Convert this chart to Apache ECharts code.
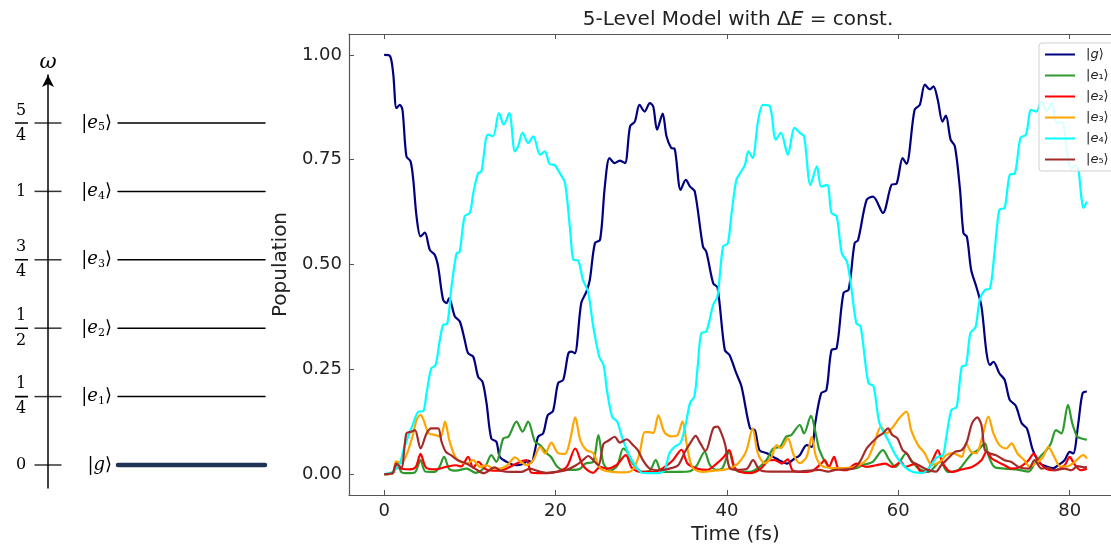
<!DOCTYPE html>
<html><head><meta charset="utf-8">
<script src="https://cdn.jsdelivr.net/npm/echarts@6/dist/echarts.min.js"></script>
<style>html,body{margin:0;padding:0;background:#fff}#c{width:1111px;height:544px}</style>
</head><body><div id="c"></div>
<script>
// ---------- data ----------
const levelValues = [0, 0.25, 0.5, 0.75, 1, 1.25];
const levelKets = ['|{i|g}⟩', '|{i|e}{s|1}⟩', '|{i|e}{s|2}⟩', '|{i|e}{s|3}⟩', '|{i|e}{s|4}⟩', '|{i|e}{s|5}⟩'];
const levelTickLabels = [['0'], ['1', '4'], ['1', '2'], ['3', '4'], ['1'], ['5', '4']];
const xTicks = [0, 20, 40, 60, 80];
const yTicks = [0, 0.25, 0.5, 0.75, 1.0];
const seriesNames = ['|g⟩', '|e₁⟩', '|e₂⟩', '|e₃⟩', '|e₄⟩', '|e₅⟩'];
const seriesColors = ['#000080', '#2e9a2e', '#ff0000', '#ffa500', '#00ffff', '#a52a2a'];

const gPop = [[0,1.0],[0.66,0.998],[1.05,0.957],[1.44,0.873],[1.83,0.881],[2.14,0.869],[2.6,0.758],[3.08,0.746],[3.4,0.702],[3.78,0.615],[4.25,0.567],[4.75,0.576],[5.33,0.535],[5.9,0.523],[6.3,0.495],[6.88,0.416],[7.28,0.408],[7.58,0.42],[8.25,0.376],[8.83,0.364],[9.4,0.32],[9.8,0.288],[10.4,0.28],[10.97,0.232],[11.48,0.22],[11.95,0.169],[12.5,0.085],[13.1,0.077],[13.5,0.041],[14.3,0.029],[15.4,0.021],[16.2,0.024],[16.8,0.032],[17.2,0.028],[17.6,0.057],[17.97,0.089],[18.55,0.097],[19.1,0.141],[19.7,0.15],[20.3,0.217],[20.9,0.225],[21.5,0.288],[21.9,0.292],[22.25,0.288],[23.0,0.408],[23.6,0.435],[24.0,0.463],[24.6,0.551],[25.2,0.559],[25.75,0.686],[26.3,0.754],[26.9,0.742],[27.5,0.748],[28.1,0.742],[28.7,0.83],[29.25,0.841],[29.8,0.881],[30.4,0.865],[31.0,0.885],[31.4,0.877],[31.85,0.822],[32.5,0.86],[32.95,0.806],[33.5,0.778],[33.9,0.776],[34.6,0.678],[35.2,0.702],[35.7,0.686],[36.25,0.674],[37.2,0.543],[37.6,0.53],[38.4,0.455],[38.9,0.445],[39.75,0.296],[40.3,0.284],[41.1,0.24],[41.7,0.209],[42.7,0.109],[43.25,0.105],[43.8,0.057],[44.6,0.05],[45.4,0.041],[46.1,0.033],[47.0,0.025],[47.9,0.037],[48.5,0.045],[49.3,0.069],[49.9,0.065],[50.3,0.121],[51.0,0.193],[51.6,0.2],[52.2,0.296],[52.8,0.3],[53.6,0.432],[54.2,0.44],[54.9,0.551],[55.3,0.558],[56.3,0.654],[57.05,0.662],[58.2,0.623],[59.2,0.69],[59.8,0.693],[60.5,0.754],[60.95,0.74],[61.9,0.869],[62.5,0.881],[63.1,0.929],[63.7,0.918],[64.1,0.925],[64.6,0.893],[65.15,0.841],[65.55,0.855],[66.1,0.798],[66.6,0.782],[67.2,0.678],[67.6,0.575],[68.0,0.566],[68.5,0.487],[69.1,0.447],[69.7,0.4],[70.3,0.288],[70.7,0.26],[71.1,0.268],[71.8,0.24],[72.4,0.225],[73.0,0.177],[73.7,0.163],[74.4,0.121],[75.0,0.109],[75.7,0.057],[76.5,0.026],[77.3,0.018],[78.1,0.014],[78.7,0.022],[79.4,0.033],[80.0,0.053],[80.4,0.049],[81.0,0.121],[81.5,0.193],[82,0.197]];

const e1Pop = [[0,0],[1.0,0.002],[1.6,0.027],[2.0,0.005],[2.8,0.002],[3.6,0.004],[4.25,0.033],[4.8,0.006],[5.8,0.005],[6.4,0.015],[7.0,0.041],[7.6,0.012],[8.4,0.008],[9.6,0.013],[10.7,0.003],[11.8,0.018],[12.5,0.045],[13.1,0.029],[13.9,0.085],[14.5,0.089],[15.45,0.125],[16.15,0.101],[16.8,0.125],[17.6,0.077],[18.2,0.069],[19.0,0.049],[19.5,0.04],[20.1,0.02],[20.9,0.01],[22.0,0.01],[22.8,0.012],[23.5,0.025],[24.4,0.03],[25.0,0.093],[25.6,0.025],[26.4,0.008],[27.2,0.02],[27.9,0.061],[28.3,0.055],[29.0,0.025],[30.2,0.005],[31.0,0.008],[31.7,0.033],[32.4,0.005],[34.0,0.005],[35.5,0.006],[36.4,0.018],[37.4,0.053],[38.0,0.022],[38.8,0.01],[39.5,0.015],[40.25,0.053],[40.9,0.012],[41.7,0.005],[42.7,0.005],[43.8,0.017],[44.6,0.033],[45.4,0.061],[46.2,0.065],[46.9,0.089],[47.5,0.093],[48.5,0.117],[49.0,0.097],[49.8,0.139],[50.4,0.093],[50.8,0.057],[51.6,0.025],[52.3,0.013],[53.5,0.012],[55.1,0.014],[55.8,0.021],[57.0,0.029],[58.2,0.057],[58.9,0.035],[59.7,0.017],[60.9,0.049],[61.6,0.03],[62.4,0.013],[63.5,0.005],[64.9,0.029],[65.8,0.005],[67.0,0.01],[67.8,0.029],[68.6,0.049],[69.3,0.057],[70.1,0.073],[70.5,0.045],[71.2,0.017],[72.4,0.013],[74.0,0.01],[75.2,0.006],[75.9,0.025],[76.7,0.045],[77.2,0.055],[77.8,0.073],[78.4,0.105],[79.0,0.097],[79.8,0.165],[80.3,0.121],[80.9,0.089],[81.7,0.083],[82,0.082]];

const e2Pop = [[0,0],[1.0,0.002],[1.4,0.017],[2.2,0.012],[3.0,0.011],[3.7,0.017],[4.25,0.048],[4.9,0.015],[6.0,0.011],[7.2,0.017],[8.4,0.021],[9.0,0.018],[9.8,0.041],[10.4,0.015],[11.0,0.029],[11.8,0.012],[12.7,0.008],[13.5,0.008],[14.3,0.013],[15.45,0.025],[16.6,0.033],[17.2,0.003],[18.5,0.002],[20.1,0.005],[21.3,0.017],[22.3,0.061],[23.2,0.02],[24.4,0.003],[25.2,0.017],[26.0,0.013],[27.1,0.021],[28.2,0.045],[28.9,0.015],[30.0,0.005],[31.5,0.005],[32.6,0.015],[33.7,0.033],[34.7,0.058],[35.4,0.025],[36.5,0.013],[37.7,0.01],[38.8,0.025],[39.6,0.04],[40.25,0.057],[40.9,0.015],[41.6,0.005],[42.7,0.002],[43.9,0.012],[45.0,0.033],[45.6,0.033],[46.4,0.025],[47.1,0.035],[47.7,0.008],[48.9,0.005],[50.0,0.008],[51.0,0.025],[51.4,0.033],[51.9,0.017],[52.5,0.041],[53.0,0.013],[53.9,0.009],[55.1,0.025],[56.3,0.017],[57.4,0.021],[58.5,0.025],[59.3,0.017],[60.3,0.029],[60.8,0.017],[62.0,0.025],[62.5,0.008],[63.2,0.005],[64.0,0.033],[64.6,0.057],[65.2,0.025],[66.2,0.005],[67.4,0.011],[68.6,0.017],[69.7,0.033],[70.3,0.053],[70.9,0.037],[71.6,0.029],[72.4,0.021],[73.2,0.013],[74.2,0.017],[75.2,0.033],[75.8,0.049],[76.3,0.033],[77.2,0.013],[78.2,0.009],[79.4,0.021],[80.0,0.041],[80.5,0.025],[81.3,0.009],[82,0.013]];

const e3Pop = [[0,0],[1.0,0.003],[1.4,0.03],[2.0,0.027],[2.6,0.045],[3.3,0.089],[3.8,0.13],[4.25,0.141],[4.6,0.129],[5.2,0.097],[6.0,0.093],[6.6,0.089],[7.1,0.125],[7.6,0.081],[8.2,0.045],[8.8,0.03],[9.6,0.025],[10.4,0.033],[11.2,0.017],[12.0,0.021],[12.7,0.013],[13.5,0.013],[14.4,0.021],[15.25,0.04],[15.9,0.03],[16.6,0.021],[17.4,0.033],[18.2,0.065],[18.8,0.049],[19.5,0.075],[20.3,0.05],[21.1,0.048],[21.7,0.081],[22.3,0.135],[22.9,0.08],[23.6,0.057],[24.4,0.05],[25.3,0.012],[26.7,0.005],[28.0,0.004],[29.0,0.01],[29.8,0.049],[30.4,0.1],[30.9,0.1],[31.4,0.098],[32.0,0.14],[32.7,0.1],[33.5,0.09],[34.2,0.092],[34.8,0.125],[35.4,0.06],[36.0,0.015],[37.2,0.005],[38.5,0.008],[39.6,0.01],[40.3,0.014],[41.0,0.02],[41.7,0.035],[42.3,0.057],[43.0,0.109],[43.6,0.05],[44.4,0.026],[45.2,0.041],[45.8,0.069],[46.3,0.062],[47.1,0.085],[47.8,0.045],[48.5,0.026],[49.3,0.041],[49.9,0.089],[50.4,0.041],[51.2,0.018],[53.1,0.014],[54.7,0.016],[56.3,0.034],[57.05,0.065],[58.0,0.113],[58.6,0.097],[59.4,0.113],[60.1,0.133],[60.95,0.149],[61.5,0.105],[62.3,0.069],[63.1,0.049],[63.9,0.022],[64.9,0.03],[65.6,0.045],[66.3,0.05],[67.4,0.041],[67.9,0.073],[68.5,0.053],[69.1,0.05],[69.8,0.089],[70.5,0.137],[71.1,0.097],[71.8,0.069],[72.6,0.061],[73.2,0.073],[73.9,0.049],[74.7,0.033],[75.3,0.018],[76.1,0.026],[76.9,0.041],[77.5,0.065],[78.2,0.041],[78.9,0.018],[79.7,0.018],[80.4,0.026],[81.2,0.041],[81.6,0.045],[82,0.037]];

const e4Pop = [[0,0],[1,0.005],[1.8,0.024],[2.3,0.06],[2.8,0.089],[3.4,0.121],[4.0,0.149],[4.55,0.15],[4.95,0.193],[5.5,0.252],[6.0,0.26],[6.5,0.32],[6.9,0.356],[7.35,0.358],[7.86,0.447],[8.45,0.527],[8.8,0.53],[9.4,0.615],[10.0,0.623],[10.4,0.67],[10.97,0.718],[11.35,0.722],[12.1,0.81],[12.7,0.806],[13.4,0.861],[13.95,0.834],[14.6,0.861],[15.25,0.77],[15.6,0.78],[16.15,0.814],[16.8,0.79],[17.4,0.806],[18.2,0.762],[18.75,0.77],[19.3,0.74],[19.9,0.737],[20.5,0.718],[21.1,0.695],[21.7,0.583],[22.1,0.511],[22.6,0.51],[23.2,0.463],[23.8,0.435],[24.4,0.352],[25.1,0.28],[25.6,0.26],[26.0,0.2],[26.6,0.137],[27.2,0.125],[27.8,0.085],[28.6,0.045],[29.3,0.02],[30.1,0.003],[31,0.002],[32.2,0.003],[32.75,0.01],[33.3,0.05],[33.9,0.065],[34.6,0.075],[35.2,0.12],[35.7,0.17],[36.2,0.185],[36.6,0.26],[37.0,0.336],[37.6,0.34],[38.4,0.404],[38.9,0.424],[39.55,0.543],[40.1,0.55],[40.5,0.615],[41.1,0.702],[41.6,0.72],[42.1,0.738],[42.5,0.77],[43.0,0.754],[43.6,0.838],[44.2,0.881],[45.0,0.878],[45.7,0.798],[46.3,0.814],[47.1,0.762],[47.9,0.826],[48.5,0.814],[49.0,0.806],[49.75,0.69],[50.5,0.734],[51.0,0.686],[51.7,0.69],[52.2,0.623],[52.8,0.615],[53.4,0.527],[54.0,0.507],[54.5,0.447],[55.1,0.36],[55.6,0.352],[56.5,0.217],[57.1,0.21],[57.8,0.121],[58.8,0.081],[59.8,0.041],[60.75,0.017],[61.7,0.005],[62.9,0.003],[63.7,0.018],[64.5,0.04],[65.2,0.045],[65.6,0.089],[66.2,0.153],[66.8,0.16],[67.4,0.256],[67.9,0.26],[68.4,0.336],[69.0,0.35],[69.5,0.416],[70.1,0.439],[70.7,0.443],[71.25,0.535],[71.8,0.631],[72.4,0.635],[73.0,0.714],[73.6,0.717],[74.25,0.802],[74.9,0.81],[75.5,0.869],[76.1,0.865],[76.7,0.889],[77.3,0.867],[77.9,0.885],[78.5,0.838],[79.1,0.84],[79.7,0.766],[80.2,0.73],[80.8,0.738],[81.4,0.654],[81.6,0.635],[82,0.65]];

const e5Pop = [[0,0],[1.0,0.003],[1.4,0.025],[2.0,0.015],[2.6,0.097],[3.2,0.101],[3.6,0.105],[4.25,0.061],[4.95,0.097],[5.5,0.109],[6.3,0.109],[6.7,0.077],[7.2,0.053],[7.8,0.045],[8.6,0.033],[9.6,0.025],[10.6,0.013],[11.6,0.002],[12.9,0.016],[13.6,0.008],[14.8,0.005],[16.0,0.005],[17.0,0.013],[17.8,0.008],[19.0,0.003],[20.1,0.005],[21.3,0.01],[22.4,0.021],[23.2,0.033],[23.8,0.043],[24.4,0.033],[25.0,0.021],[25.6,0.072],[26.2,0.08],[26.9,0.089],[27.5,0.075],[28.3,0.083],[29.0,0.07],[29.6,0.057],[30.2,0.033],[31.0,0.013],[32.2,0.009],[33.3,0.013],[34.3,0.021],[35.1,0.053],[35.7,0.073],[36.35,0.091],[36.9,0.073],[37.5,0.055],[38.4,0.109],[38.9,0.113],[39.3,0.1],[39.8,0.07],[40.3,0.015],[41.1,0.01],[42.3,0.012],[43.05,0.033],[43.8,0.01],[45.0,0.006],[46.9,0.006],[48.5,0.006],[50.8,0.01],[51.8,0.006],[52.7,0.01],[54.7,0.013],[55.5,0.029],[56.3,0.061],[57.0,0.077],[57.6,0.089],[58.2,0.097],[58.8,0.109],[59.3,0.093],[59.9,0.085],[60.5,0.057],[61.0,0.049],[61.6,0.029],[62.4,0.021],[63.4,0.01],[64.4,0.006],[65.0,0.021],[65.8,0.037],[66.6,0.053],[67.4,0.057],[68.0,0.077],[68.6,0.121],[69.2,0.135],[69.7,0.117],[70.1,0.057],[70.7,0.049],[71.4,0.045],[72.4,0.033],[73.2,0.029],[74.0,0.017],[75.2,0.013],[75.9,0.033],[76.7,0.013],[77.4,0.015],[78.2,0.009],[79.4,0.013],[80.2,0.009],[80.9,0.019],[81.7,0.016],[82,0.017]];

const popData = [gPop, e1Pop, e2Pop, e3Pop, e4Pop, e5Pop];

// ---------- chart ----------
const SANS = 'DejaVu Sans';
const SERIF = 'DejaVu Serif';
const TXT = '#222';
const chart = echarts.init(document.getElementById('c'), null, {renderer: 'canvas'});

const mainSeries = seriesNames.map((n, i) => ({
  name: n, type: 'line', xAxisIndex: 0, yAxisIndex: 0,
  data: popData[i], showSymbol: false, symbol: 'none', smooth: 0.3,
  lineStyle: {color: seriesColors[i], width: 2.2}, itemStyle: {color: seriesColors[i]},
  z: 2 + i, animation: false
}));

const levelSeries = levelValues.map((v, i) => ({
  type: 'line', xAxisIndex: 3, yAxisIndex: 2, symbol: 'none', animation: false,
  lineStyle: {color: i === 0 ? '#1f3355' : '#000', width: i === 0 ? 4.5 : 1.5, cap: 'round'},
  data: [[0, v], [1, v]], silent: true
}));

// tick marks crossing the ω axis
const tickSeries = {
  type: 'scatter', xAxisIndex: 2, yAxisIndex: 1, symbol: 'rect', symbolSize: [27, 1.5],
  clip: false, itemStyle: {color: '#000'}, data: levelValues.map(v => [0, v]), silent: true, animation: false
};
// fraction bars of the tick labels (own narrow grid)
const fracBarSeries = levelValues
  .filter((v, i) => levelTickLabels[i].length === 2)
  .map(v => ({
    type: 'line', xAxisIndex: 4, yAxisIndex: 3, symbol: 'none', animation: false, silent: true,
    lineStyle: {color: '#000', width: 1.6}, data: [[0, v], [1, v]], z: 10
  }));

const idxOf = v => levelValues.findIndex(x => Math.abs(x - v) < 1e-6);

const option = {
  backgroundColor: '#fff',
  animation: false,
  title: {
    text: '5-Level Model with Δ{i|E} = const.', left: 733, top: 5, textAlign: 'center',
    textStyle: {fontFamily: SANS, fontSize: 20, fontWeight: 'normal', color: TXT,
      rich: {i: {fontStyle: 'italic', fontFamily: SANS, fontSize: 20, color: TXT}}}
  },
  legend: {
    data: seriesNames, orient: 'vertical', left: 1039, top: 43,
    itemWidth: 30, itemHeight: 14, itemGap: 8,
    padding: [5, 12, 5, 5],
    itemStyle: {opacity: 0},
    backgroundColor: 'rgba(255,255,255,0.85)', borderColor: '#d0d0d0', borderWidth: 1, borderRadius: 3,
    formatter: n => n.replace(/^\|([ge])/, '|{i|$1}'),
    textStyle: {fontFamily: SANS, fontSize: 13, color: TXT, padding: [0, 0, 0, 6],
      rich: {i: {fontStyle: 'italic', fontFamily: SANS, fontSize: 13, color: TXT}}},
    z: 20
  },
  grid: [
    {left: 349, top: 34, width: 773, height: 461, outerBoundsMode: 'none'},
    {left: 48, top: 75, width: 20, height: 413, outerBoundsMode: 'none'},
    {left: 118, top: 75, width: 147, height: 413, outerBoundsMode: 'none'},
    {left: 15, top: 75, width: 13, height: 413, outerBoundsMode: 'none'}
  ],
  xAxis: [
    {type: 'value', gridIndex: 0, min: -4.1, max: 86.1, position: 'bottom',
      name: 'Time (fs)', nameLocation: 'middle', nameGap: 25,
      nameTextStyle: {fontFamily: SANS, fontSize: 20, color: TXT},
      axisLine: {show: true, onZero: false, lineStyle: {color: '#555', width: 1.2}},
      axisTick: {show: true, inside: true, length: 5, customValues: xTicks, lineStyle: {color: '#555'}},
      axisLabel: {show: true, customValues: xTicks, margin: 7, fontFamily: SANS, fontSize: 18, color: TXT},
      splitLine: {show: false}},
    {type: 'value', gridIndex: 0, min: -4.1, max: 86.1, position: 'top',
      axisLine: {show: true, onZero: false, lineStyle: {color: '#555', width: 1.2}},
      axisTick: {show: true, inside: true, length: 5, customValues: xTicks, lineStyle: {color: '#555'}},
      axisLabel: {show: false}, splitLine: {show: false}},
    {type: 'value', gridIndex: 1, min: 0, max: 1, show: false},
    {type: 'value', gridIndex: 2, min: 0, max: 1, show: false},
    {type: 'value', gridIndex: 3, min: 0, max: 1, show: false}
  ],
  yAxis: [
    {type: 'value', gridIndex: 0, min: -0.05, max: 1.05, position: 'left',
      name: 'Population', nameLocation: 'middle', nameGap: 47,
      nameTextStyle: {fontFamily: SANS, fontSize: 20, color: TXT},
      axisLine: {show: true, onZero: false, lineStyle: {color: '#555', width: 1.2}},
      axisTick: {show: true, inside: true, length: 5, customValues: yTicks, lineStyle: {color: '#555'}},
      axisLabel: {show: true, customValues: yTicks, margin: 7, fontFamily: SANS, fontSize: 18, color: TXT,
        formatter: v => v.toFixed(2)},
      splitLine: {show: false}},
    {type: 'value', gridIndex: 1, min: -0.0841, max: 1.4254, position: 'left',
      name: 'ω', nameLocation: 'end', nameGap: 2,
      nameTextStyle: {fontFamily: SERIF, fontStyle: 'italic', fontSize: 21, color: '#000', align: 'center'},
      axisLine: {show: true, onZero: false, symbol: ['none', 'arrow'], symbolSize: [9, 12],
        lineStyle: {color: '#000', width: 1.5}},
      axisTick: {show: false},
      axisLabel: {show: true, customValues: levelValues, margin: 20,
        formatter: v => {
          const p = levelTickLabels[idxOf(v)] || [''];
          return p.length === 1 ? '{n|' + p[0] + '}' : '{n|' + p[0] + '}\n{n|' + p[1] + '}';
        },
        rich: {
          n: {fontFamily: SERIF, fontSize: 16, lineHeight: 25, width: 14, align: 'center', color: '#000'}
        }},
      splitLine: {show: false}},
    {type: 'value', gridIndex: 2, min: -0.0841, max: 1.4254, position: 'left',
      axisLine: {show: false}, axisTick: {show: false}, splitLine: {show: false},
      axisLabel: {show: true, customValues: levelValues, margin: 6,
        formatter: v => levelKets[idxOf(v)] || '',
        fontFamily: SERIF, fontSize: 18, color: '#000',
        rich: {
          i: {fontFamily: SERIF, fontStyle: 'italic', fontSize: 18, color: '#000'},
          s: {fontFamily: SERIF, fontSize: 11, color: '#000', padding: [9, 0, 0, 0]}
        }}},
    {type: 'value', gridIndex: 3, min: -0.0841, max: 1.4254, show: false}
  ],
  series: [...mainSeries, tickSeries, ...fracBarSeries, ...levelSeries]
};
chart.setOption(option);
</script></body></html>
